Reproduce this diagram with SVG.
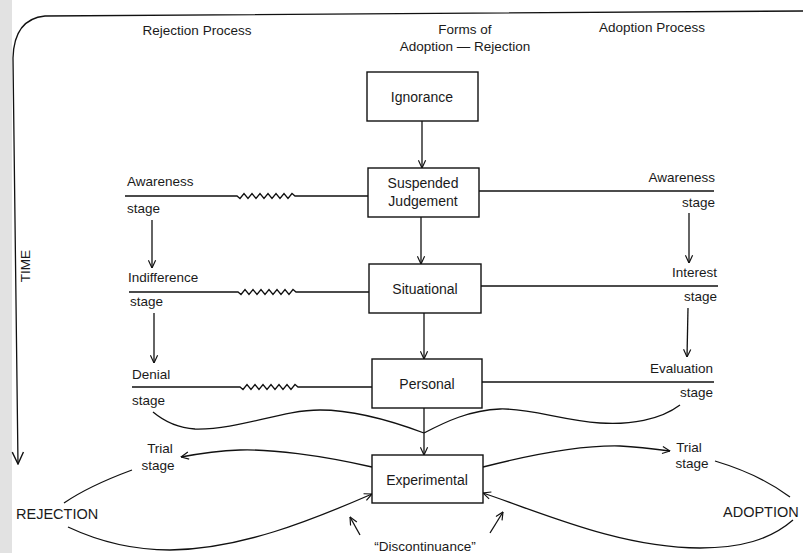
<svg xmlns="http://www.w3.org/2000/svg" width="803" height="553" viewBox="0 0 803 553">
<defs>
<marker id="arr" viewBox="0 0 10 10" refX="9.5" refY="5" markerWidth="9" markerHeight="9" markerUnits="userSpaceOnUse" orient="auto">
<path d="M1,1 L9.5,5 L1,9" fill="none" stroke="#111" stroke-width="1.3"/>
</marker>
<marker id="arrBig" viewBox="0 0 10 10" refX="9.5" refY="5" markerWidth="14" markerHeight="14" markerUnits="userSpaceOnUse" orient="auto">
<path d="M1,1 L9.5,5 L1,9" fill="none" stroke="#111" stroke-width="1"/>
</marker>
<style>
text{font-family:"Liberation Sans",Arial,sans-serif;fill:#1a1a1a;font-size:13.5px}
.box{fill:#fff;stroke:#111;stroke-width:1.4}
.bt{font-size:14px;text-anchor:middle}
.ln{fill:none;stroke:#111;stroke-width:1.3}
.arw{marker-end:url(#arr)}
.mid{text-anchor:middle}
.end{text-anchor:end}
.cap{font-size:14.5px}
</style>
</defs>
<rect x="0" y="0" width="803" height="553" fill="#fff"/>
<rect x="0" y="0" width="12" height="553" fill="#e2e2e2"/>

<g id="frame">
<path class="ln" d="M803,11 L45,16 Q14,19 13,58 L18,464" marker-end="url(#arrBig)"/>
<text transform="translate(30,266) rotate(-90)" class="mid" style="font-size:13.5px">TIME</text>
</g>

<g id="headers">
<text x="197" y="35" class="mid">Rejection Process</text>
<text x="465" y="34" class="mid">Forms of</text>
<text x="465" y="51" class="mid">Adoption — Rejection</text>
<text x="652" y="32" class="mid">Adoption Process</text>
</g>

<g id="connectors">
<path class="ln arw" d="M422,121 L422,168"/>
<path class="ln arw" d="M421,217 L421,264"/>
<path class="ln arw" d="M424,313 L424,359"/>
<path class="ln arw" d="M424,408 L424,455"/>
<path class="ln" d="M125,196 L237,196 L240,198.5 L244,193.5 L248,198.5 L252,193.5 L256,198.5 L260,193.5 L264,198.5 L268,193.5 L272,198.5 L276,193.5 L280,198.5 L284,193.5 L288,198.5 L292,193.5 L295,196 L368,196"/>
<path class="ln" d="M129,292 L238,292 L241,294.5 L245,289.5 L249,294.5 L253,289.5 L257,294.5 L261,289.5 L265,294.5 L269,289.5 L273,294.5 L277,289.5 L281,294.5 L285,289.5 L289,294.5 L293,289.5 L296,292 L369,292"/>
<path class="ln" d="M132,387 L240,387 L243,389.5 L247,384.5 L251,389.5 L255,384.5 L259,389.5 L263,384.5 L267,389.5 L271,384.5 L275,389.5 L279,384.5 L283,389.5 L287,384.5 L291,389.5 L295,384.5 L298,387 L372,387"/>
<path class="ln" d="M479,191 L714,191"/>
<path class="ln" d="M481,286 L718,286"/>
<path class="ln" d="M482,382 L714,382"/>
<path class="ln arw" d="M152,220 L152,268"/>
<path class="ln arw" d="M154,313 L154,363"/>
<path class="ln arw" d="M689,213 L689,263"/>
<path class="ln arw" d="M688,308 L687,357"/>
<path class="ln" d="M153,412 C165,422 178,428 195,429 C240,430 280,410 320,410 C360,410 400,424 424,433"/>
<path class="ln" d="M680,405 C660,420 630,425 600,423 C560,420 530,408 500,409 C470,410 445,422 424,433"/>
<path class="ln arw" d="M372,467 C320,455 270,449 240,450 C215,451 197,454 181,457"/>
<path class="ln" d="M132,470 C105,480 80,492 64,503"/>
<path class="ln arw" d="M68,527 C100,542 135,550 170,550 C240,549 310,521 372,494"/>
<path class="ln arw" d="M483,467 C530,455 580,445 620,446 C640,447 655,449 670,451"/>
<path class="ln" d="M715,461 C745,470 770,482 790,497"/>
<path class="ln arw" d="M793,520 C770,540 740,548 700,548 C620,548 540,512 483,493"/>
<path class="ln arw" d="M360,535 L350,517"/>
<path class="ln arw" d="M490,533 L503,512"/>
</g>

<g id="ignorance"><rect class="box" x="367" y="72" width="111" height="49"/><text x="422" y="102" class="bt">Ignorance</text></g>
<g id="suspended"><rect class="box" x="368" y="168" width="111" height="49"/><text x="423" y="188" class="bt">Suspended</text><text x="423" y="206" class="bt">Judgement</text></g>
<g id="situational"><rect class="box" x="369" y="264" width="112" height="49"/><text x="425" y="294" class="bt">Situational</text></g>
<g id="personal"><rect class="box" x="372" y="359" width="110" height="49"/><text x="427" y="389" class="bt">Personal</text></g>
<g id="experimental"><rect class="box" x="372" y="455" width="111" height="48"/><text x="427" y="485" class="bt">Experimental</text></g>

<g id="rej-awareness"><text x="127" y="186">Awareness</text><text x="127" y="213">stage</text></g>
<g id="rej-indifference"><text x="128" y="282">Indifference</text><text x="130" y="306">stage</text></g>
<g id="rej-denial"><text x="132" y="379">Denial</text><text x="132" y="405">stage</text></g>
<g id="rej-trial"><text x="160" y="453" class="mid">Trial</text><text x="158" y="470" class="mid">stage</text></g>
<g id="rejection"><text x="16" y="519" class="cap">REJECTION</text></g>

<g id="ad-awareness"><text x="715" y="182" class="end">Awareness</text><text x="715" y="207" class="end">stage</text></g>
<g id="ad-interest"><text x="717" y="277" class="end">Interest</text><text x="717" y="301" class="end">stage</text></g>
<g id="ad-evaluation"><text x="713" y="373" class="end">Evaluation</text><text x="713" y="397" class="end">stage</text></g>
<g id="ad-trial"><text x="689" y="452" class="mid">Trial</text><text x="692" y="468" class="mid">stage</text></g>
<g id="adoption"><text x="723" y="517" class="cap">ADOPTION</text></g>

<g id="discontinuance"><text x="425" y="551" class="mid">“Discontinuance”</text></g>
</svg>
